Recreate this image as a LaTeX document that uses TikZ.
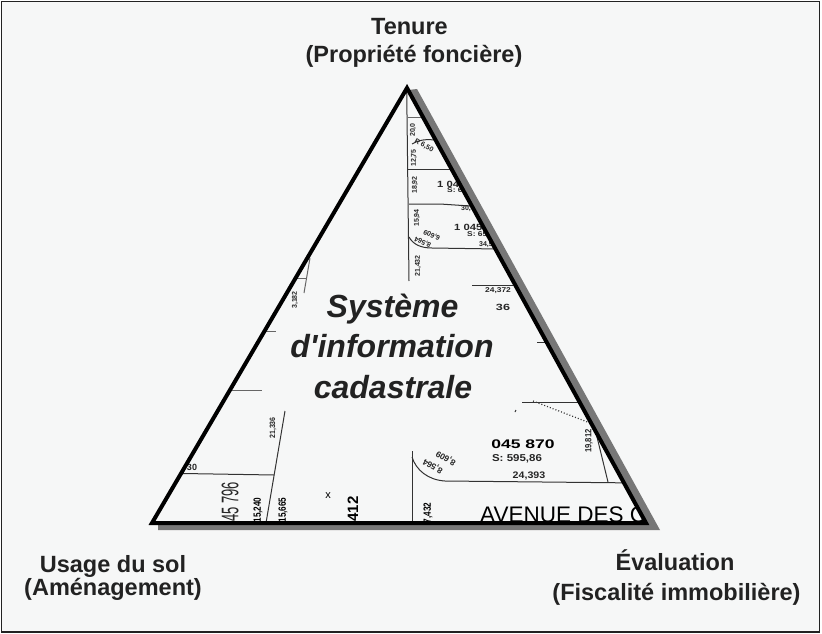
\documentclass[tikz,border=0pt]{standalone}
\usepackage{fontspec}
\setmainfont{Liberation Sans}
\newfontfamily\plainsans{Liberation Sans}
\definecolor{paper}{HTML}{F6F7F7}
\definecolor{ink}{HTML}{222222}
\definecolor{shadowgrey}{HTML}{777777}
\definecolor{mapink}{HTML}{333333}
\tikzset{
  label/.style={font=\fontsize{23.5}{26}\selectfont\bfseries, text=ink, inner sep=0pt, anchor=base},
  maintext/.style={font=\plainsans\fontsize{32}{40}\selectfont\bfseries\itshape, text=ink, inner sep=0pt, anchor=base},
  parcel/.style={draw=mapink, line width=1pt},
  thinparcel/.style={draw=black!60, line width=1pt},
  tiny/.style={font=\fontsize{7}{8}\selectfont\bfseries, inner sep=0pt, text=black!85},
  small/.style={font=\fontsize{9}{10}\selectfont\bfseries, inner sep=0pt, text=black!85}
}
\begin{document}
\begin{tikzpicture}[x=1pt,y=-1pt]
\useasboundingbox (0,0) rectangle (822,634);
\fill[white] (0,0) rectangle (822,634);
\draw[fill=paper, draw=ink, line width=1.2pt] (1.5,1.5) rectangle (819.5,632);

\coordinate (A) at (407,88);
\coordinate (L) at (152,523);
\coordinate (R) at (646,523);

% shadow
\fill[shadowgrey] (417,89) -- (660,530) -- (158,530) -- (158,524) -- (648,524) -- (408,90) -- cycle;
\fill[paper] (A) -- (L) -- (R) -- cycle;

\begin{scope}
\clip (A) -- (L) -- (R) -- cycle;
% upper parcels
\draw[parcel] (406.7,90) -- (409,281);
\draw[thinparcel] (408,117) -- (424,117);
\draw[parcel] (412,144) .. controls (418,140) and (426,139) .. (434,140);
\draw[parcel] (408,169) -- (455,169);
\draw[parcel] (409,204) -- (440,204) -- (470,206);
\draw[parcel] (409,237) .. controls (413,244) and (420,248) .. (432,248) -- (498,249);
\draw[parcel] (472,285.5) -- (513,285.5);
\draw[parcel] (537,342) -- (556,342);
\node[tiny, rotate=90] (t1) at (413,130) {20,0};
\node[tiny, rotate=90] (t2) at (414,158) {12,75};
\node[tiny, rotate=90] (t3) at (415,185) {18,92};
\node[tiny, rotate=90] (t4) at (417,218) {15,94};
\node[tiny, rotate=90] (t5) at (418,266) {21,432};
\node[tiny, rotate=-30] (t6) at (424,146) {R 6,50};
\node[tiny, rotate=155] (t8) at (432,235) {6,609};
\node[tiny, rotate=155] (t9) at (423,242) {8,564};
\node[small, anchor=west] (n1) at (437,184) {\scalebox{1.25}[1]{1 045 860}};
\node[tiny, anchor=west] (n2) at (447,190.5) {\scalebox{1.2}[1]{S: 601,56}};
\node[tiny, anchor=west] (n3) at (461,208.5) {30,480};
\node[small, anchor=west] (n4) at (454,227) {\scalebox{1.25}[1]{1 045 865}};
\node[tiny, anchor=west] (n5) at (467,234.5) {\scalebox{1.2}[1]{S: 650,12}};
\node[tiny, anchor=west] (n6) at (479,245) {34,500};
\node[tiny] (n7) at (498,291) {\scalebox{1.2}[1]{24,372}};
\node[small] (n8) at (503,307) {\scalebox{1.4}[1]{36}};
% left parcels
\draw[thinparcel] (310,258) -- (304,293);
\draw[thinparcel] (297,278) -- (307,278);
\draw[thinparcel] (265,331) -- (276,331);
\draw[thinparcel] (232,390) -- (262,390);
\node[tiny, rotate=90] (l1) at (295,300) {3,182};
% lower left
\draw[parcel] (285,411) -- (266,523);
\draw[parcel] (183,473.5) -- (274,475);
\node[tiny, rotate=90] (l2) at (273,428) {\scalebox{1}[1.1]{21,336}};
\node[small] (l3) at (192,467) {30};
\node[rotate=90, inner sep=0pt, text=black!85] (l4) at (230,502) {\fontsize{24}{25}\selectfont\scalebox{0.54}[1]{45 796}};
\node[rotate=90, inner sep=0pt, text=black] (l5) at (258,510) {\fontsize{10.5}{12}\selectfont\bfseries\scalebox{0.78}[1]{15,240}};
\node[rotate=90, inner sep=0pt, text=black] (l6) at (283,510) {\fontsize{10.5}{12}\selectfont\bfseries\scalebox{0.78}[1]{15,665}};
\node[inner sep=0pt, text=black] (l7) at (328,496) {\fontsize{11}{12}\selectfont x};
\node[rotate=90, inner sep=0pt, text=black] (l8) at (353,509) {\fontsize{15}{16}\selectfont\bfseries 412};
% lower right
\draw[parcel] (412,451) -- (412,523);
\draw[parcel] (412,457) .. controls (416,470) and (428,480) .. (445,481) -- (640,483);
\draw[parcel] (522,402) -- (580,402);
\draw[parcel, dotted, line width=1.2pt] (533,401) -- (590,423);
\draw[parcel] (516,410) -- (515,412);
\draw[parcel] (597,437) -- (608,482);
\node[font=\fontsize{12.5}{14}\selectfont\bfseries, inner sep=0pt, text=black] (b1) at (523,444) {\scalebox{1.4}[1]{045 870}};
\node[font=\fontsize{10}{11}\selectfont\bfseries, inner sep=0pt, text=black!85] (b2) at (517,459) {\scalebox{1.15}[1]{S: 595,86}};
\node[font=\fontsize{9.5}{10}\selectfont\bfseries, inner sep=0pt, text=black!85] (b3) at (529,476) {\scalebox{1.12}[1]{24,393}};
\node[font=\fontsize{9}{10}\selectfont\bfseries, rotate=90, inner sep=0pt, text=black!85] (b4) at (589,441) {\scalebox{0.85}[1]{19,812}};
\node[font=\fontsize{8.5}{10}\selectfont\bfseries, rotate=150, inner sep=0pt, text=black!85] (b5) at (446,458) {8,609};
\node[font=\fontsize{8.5}{10}\selectfont\bfseries, rotate=150, inner sep=0pt, text=black!85] (b6) at (433,466) {8,564};
\node[rotate=90, inner sep=0pt, text=black] (b7) at (428,513) {\fontsize{10.5}{12}\selectfont\bfseries\scalebox{0.78}[1]{7,432}};
\node[anchor=base west, inner sep=0pt, text=black] (b8) at (480,522) {\fontsize{22.5}{24}\selectfont AVENUE DES C};
\end{scope}

\draw[black, line width=4pt, miter limit=10] (A) -- (L) -- (R) -- cycle;

\node[maintext] (m1) at (392.5,317) {Système};
\node[maintext] (m2) at (392,357) {d'information};
\node[maintext] (m3) at (393,398) {cadastrale};

\node[label] (a1) at (409.5,35) {Tenure};
\node[label] (a2) at (414,63) {(Propriété foncière)};
\node[label] (u1) at (113,572) {Usage du sol};
\node[label] (u2) at (113,595) {(Aménagement)};
\node[label] (c1) at (675,570) {Évaluation};
\node[label] (c2) at (676.5,600) {(Fiscalité immobilière)};
\end{tikzpicture}
\end{document}
